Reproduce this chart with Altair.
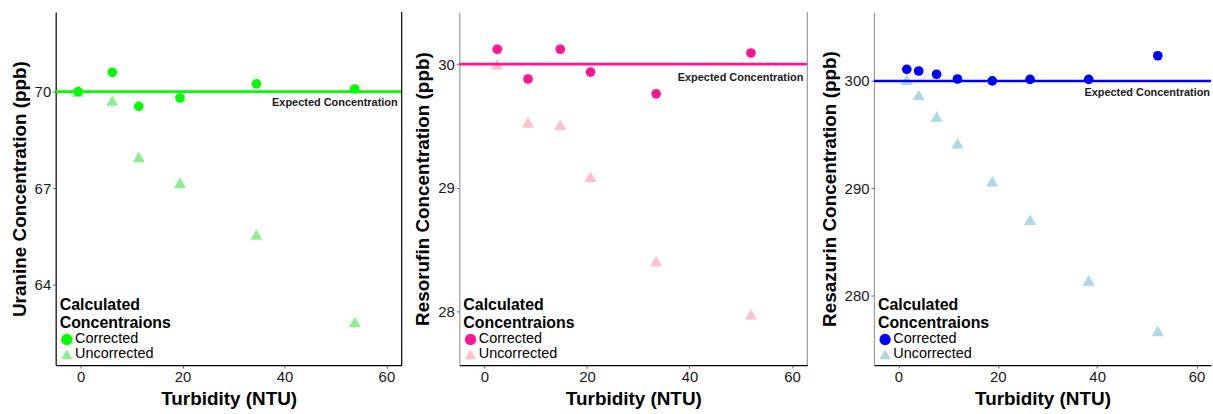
import altair as alt
import pandas as pd

# ---------------- data ----------------
types = ["Corrected", "Uncorrected"]

# Panel 1: Uranine
ur_turb_c = [-0.5, 6.2, 11.4, 19.5, 34.5, 53.8]
ur_conc_c = [70.0, 70.6, 69.54, 69.8, 70.24, 70.08]
ur_turb_u = [-0.5, 6.2, 11.4, 19.5, 34.5, 53.8]
ur_conc_u = [70.0, 69.72, 67.97, 67.17, 65.56, 62.84]
ur_expected = 70

# Panel 2: Resorufin
rf_turb_c = [2.5, 8.5, 14.8, 20.7, 33.5, 52.0]
rf_conc_c = [30.12, 29.88, 30.12, 29.936, 29.76, 30.09]
rf_turb_u = [2.5, 8.5, 14.8, 20.7, 33.5, 52.0]
rf_conc_u = [30.0, 29.53, 29.51, 29.09, 28.41, 27.98]
rf_expected = 30

# Panel 3: Resazurin
rz_turb_c = [1.7, 4.1, 7.7, 11.9, 18.9, 26.5, 38.3, 52.2]
rz_conc_c = [301.08, 300.92, 300.62, 300.18, 300.0, 300.15, 300.15, 302.34]
rz_turb_u = [1.7, 4.1, 7.7, 11.9, 18.9, 26.5, 38.3, 52.2]
rz_conc_u = [300.1, 298.7, 296.7, 294.2, 290.67, 287.1, 281.45, 276.74]
rz_expected = 300

x_ticks = [0, 20, 40, 60]

FONT = "Liberation Sans"
H = 355


def panel(tc, cc, tu, cu, expected, ydom, yticks, ytitle, col_c, col_u,
          width, xdom, left_col, right_col, text_dy, text_dx):
    df = pd.DataFrame({
        "Turbidity": list(tc) + list(tu),
        "Conc": list(cc) + list(cu),
        "Type": [types[0]] * len(tc) + [types[1]] * len(tu),
    })
    ref = pd.DataFrame({"Conc": [expected], "label": ["Expected Concentration"]})

    xenc = alt.X("Turbidity:Q", title="Turbidity (NTU)",
                 scale=alt.Scale(domain=xdom, nice=False, zero=False),
                 axis=alt.Axis(values=x_ticks, format="d", domainColor="#000000",
                               tickColor="#666666"))
    yenc = alt.Y("Conc:Q", title=ytitle,
                 scale=alt.Scale(domain=ydom, nice=False, zero=False),
                 axis=alt.Axis(values=yticks, format="d", domainColor=left_col,
                               tickColor="#666666"))
    color = alt.Color("Type:N", scale=alt.Scale(domain=types, range=[col_c, col_u]),
                      legend=alt.Legend(title=["Calculated", "Concentraions"]))
    shape = alt.Shape("Type:N", scale=alt.Scale(domain=types, range=["circle", "triangle-up"]),
                      legend=alt.Legend(title=["Calculated", "Concentraions"]))

    base = alt.Chart(df)
    tri = base.transform_filter(alt.datum.Type == "Uncorrected").mark_point(
        filled=True, opacity=1, size=150).encode(x=xenc, y=yenc, color=color, shape=shape)
    circ = base.transform_filter(alt.datum.Type == "Corrected").mark_point(
        filled=True, opacity=1, size=95).encode(x=xenc, y=yenc, color=color, shape=shape)
    rule = alt.Chart(ref).mark_rule(color=col_c, strokeWidth=2.6).encode(y=alt.Y("Conc:Q"))
    txt = alt.Chart(ref).mark_text(align="right", baseline="middle", dy=text_dy,
                                   fontWeight="bold", fontSize=11, font=FONT,
                                   color="#1a1a1a").encode(
        x=alt.value(width - text_dx), y=alt.Y("Conc:Q"), text="label:N")
    layers = [tri, rule, circ, txt]
    if right_col is not None:
        border = alt.Chart(ref).mark_rule(color=right_col, strokeWidth=1.2).encode(
            x=alt.value(width), y=alt.value(0), y2=alt.value(H))
        layers.append(border)
    return alt.layer(*layers).properties(width=width, height=H)


p1 = panel(ur_turb_c, ur_conc_c, ur_turb_u, ur_conc_u, ur_expected,
           [61.5, 72.47], [64, 67, 70], "Uranine Concentration (ppb)",
           "#00FF00", "#90EE90", 348, [-4.9, 63], "#000000", "#000000", 11, 4)
p2 = panel(rf_turb_c, rf_conc_c, rf_turb_u, rf_conc_u, rf_expected,
           [27.57, 30.42], [28, 29, 30], "Resorufin Concentration (ppb)",
           "#FF1493", "#FFC0CB", 350, [-4.9, 63], "#999999", "#999999", 14, 4)
p3 = panel(rz_turb_c, rz_conc_c, rz_turb_u, rz_conc_u, rz_expected,
           [273.57, 306.4], [280, 290, 300], "Resazurin Concentration (ppb)",
           "#0000FF", "#ADD8E6", 339, [-4.9, 62.9], "#999999", None, 12, 1)

chart = alt.hconcat(p1, p2, p3, spacing=10).resolve_scale(
    color="independent", shape="independent", x="independent", y="independent"
).resolve_legend(color="independent", shape="independent").properties(
    padding={"left": 10, "top": 10, "right": 0, "bottom": 0}
).configure(font=FONT).configure_view(stroke=None).configure_axis(
    grid=False, labelFontSize=15, labelColor="#1a1a1a", labelFont=FONT,
    titleFontSize=19, titleFontWeight="bold", titleColor="#000000", titleFont=FONT,
    tickSize=3, labelPadding=2, titlePadding=5, domainWidth=1.2
).configure_legend(
    orient="bottom-left", offset=4, padding=0, titleFontSize=16, titleFontWeight="bold",
    titleColor="#000000", titleFont=FONT, labelFont=FONT, labelFontSize=14.5,
    labelColor="#000000", symbolSize=130, symbolOpacity=1, rowPadding=0,
    titlePadding=1, labelOffset=1, titleLineHeight=18, symbolStrokeWidth=0
)

chart.save("out.html", embed_options={"renderer": "svg", "actions": False})
